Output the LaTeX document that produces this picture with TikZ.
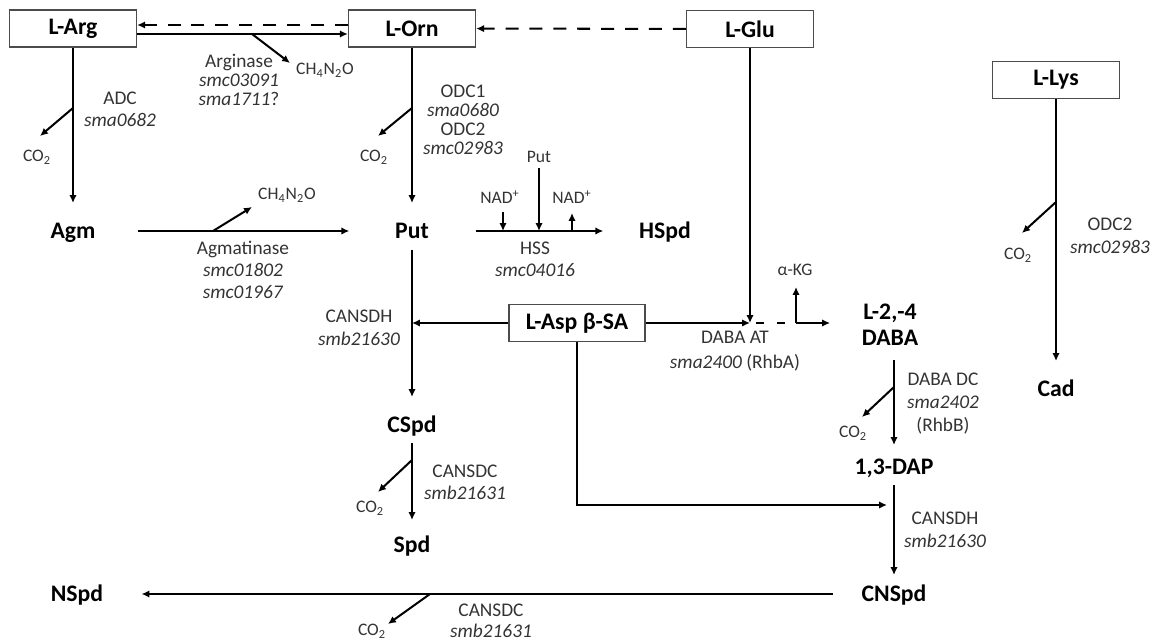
\documentclass[tikz,border=0pt]{standalone}
\usepackage{fontspec}
\setmainfont{Carlito}
\usetikzlibrary{arrows.meta,calc,positioning}

\newcommand\metfont{\fontsize{13.5}{16}\selectfont\bfseries}
\newcommand\chemfont{\fontsize{10}{12}\selectfont}

\begin{document}
\begin{tikzpicture}[x=0.02cm,y=-0.02cm,
  box/.style={draw=black!70,line width=0.8pt,minimum width=2.54cm,minimum height=0.74cm,
              inner sep=0pt,font=\metfont},
  met/.style={font=\metfont,inner sep=0pt,text height=8.7pt,text depth=0pt},
  lab/.style={font={\fontsize{11}{#1}\selectfont},align=center,text=black!80,inner sep=0pt},
  lab/.default=12.6pt,
  chem/.style={font=\chemfont,text=black!80,inner sep=0pt},
  arr/.style={line width=1.15pt,-{Latex[length=4.5pt,width=4.2pt]}},
  dasharr/.style={arr,dash pattern=on 7.4pt off 6.2pt}]
  \useasboundingbox (0,0) rectangle (1152,641);

  % boxed precursors
  \node[box] (arg) at (73,28.5) {L-Arg};
  \node[box] (orn) at (412,28.5) {L-Orn};
  \node[box] (glu) at (750,29) {L-Glu};
  \node[box] (lys) at (1056,80) {L-Lys};
  \node[box,minimum width=2.72cm] (asp) at (577,323) {L-Asp β-SA};

  % products
  \node[met] (agm) at (73,231) {Agm};
  \node[met] (put) at (412,231) {Put};
  \node[met] (hspd) at (665,231) {HSpd};
  \node[met] (cspd) at (412,425) {CSpd};
  \node[met] (spd) at (412,545) {Spd};
  \node[met] (nspd) at (77,594) {NSpd};
  \node[met] (cnspd) at (894,594) {CNSpd};
  \node[met] (dap) at (894,467) {1,3-DAP};
  \node[met] (cad) at (1056,389) {Cad};
  \node[font={\fontsize{13.5}{14.7}\selectfont\bfseries},align=center,inner sep=0pt]
    (daba) at (890,325) {L-2,-4\\DABA};

  % enzymes
  \node[lab=10.6pt] (argase) at (239,80) {Arginase\\\textit{smc03091}\\\textit{sma1711}?};
  \node[lab] (adc) at (120,109) {ADC\\\textit{sma0682}};
  \node[lab=10.8pt] (odc) at (463,120) {ODC1\\\textit{sma0680}\\ODC2\\\textit{smc02983}};
  \node[lab] (agmase) at (243,270) {Agmatinase\\\textit{smc01802}\\\textit{smc01967}};
  \node[lab] (hss) at (535,259) {HSS\\\textit{smc04016}};
  \node[lab=13pt] (cansdh1) at (359,328) {CANSDH\\\textit{smb21630}};
  \node[lab] (cansdc1) at (465,482) {CANSDC\\\textit{smb21631}};
  \node[lab=14.2pt] (dabaat) at (735,351) {DABA AT\\\textit{sma2400} (RhbA)};
  \node[lab=13.3pt] (dabadc) at (943,403.5) {DABA DC\\\textit{sma2402}\\(RhbB)};
  \node[lab=13pt] (cansdh2) at (945,530) {CANSDH\\\textit{smb21630}};
  \node[lab=12pt] (cansdc2) at (491,621) {CANSDC\\\textit{smb21631}};
  \node[lab=13pt] (odclys) at (1110,235.5) {ODC2\\\textit{smc02983}};

  % side products
  \node[chem] (urea1) at (325,70) {CH\textsubscript{4}N\textsubscript{2}O};
  \node[chem] (co2a) at (37,157) {CO\textsubscript{2}};
  \node[chem] (co2b) at (374,157) {CO\textsubscript{2}};
  \node[chem] (urea2) at (287,195) {CH\textsubscript{4}N\textsubscript{2}O};
  \node[chem] (nad1) at (500,197) {NAD\textsuperscript{+}};
  \node[chem] (putin) at (539,157) {Put};
  \node[chem] (nad2) at (572,197) {NAD\textsuperscript{+}};
  \node[chem] (akg) at (795,270) {α-KG};
  \node[chem] (co2c) at (1018,255) {CO\textsubscript{2}};
  \node[chem] (co2d) at (370,508) {CO\textsubscript{2}};
  \node[chem] (co2e) at (853,433) {CO\textsubscript{2}};
  \node[chem] (co2f) at (372,631) {CO\textsubscript{2}};

  % branch points
  \coordinate (argbr) at (252,34);   \coordinate (argur) at (290,63);
  \coordinate (adcbr) at (73,108);   \coordinate (adcco) at (40,136);
  \coordinate (odcbr) at (412,108);  \coordinate (odcco) at (378,136);
  \coordinate (agmbr) at (213,231);  \coordinate (agmur) at (252,207);
  \coordinate (nadin) at (503,212);  \coordinate (putsrc) at (539,168);
  \coordinate (nadout) at (572,213);
  \coordinate (atjoin) at (750,323); \coordinate (kgbr) at (796,323);
  \coordinate (kgout) at (796,287);
  \coordinate (cspdbr) at (412,460); \coordinate (cspdco) at (378,492);
  \coordinate (ddcbr) at (894,387);  \coordinate (ddcco) at (862,417);
  \coordinate (lysbr) at (1056,202); \coordinate (lysco) at (1022,233);
  \coordinate (dapjoin) at (887,505);
  \coordinate (nsbr) at (430,594);   \coordinate (nsco) at (388,624);

  % Arg / Orn / Glu
  \draw[dasharr] ([yshift=0.07cm]orn.west) -- ([yshift=0.07cm]arg.east);
  \draw[arr] ([yshift=-0.11cm]arg.east) -- ([yshift=-0.11cm]orn.west);
  \draw[arr] (argbr) -- (argur);
  \draw[dasharr] (glu) -- (orn);
  \draw[arr,shorten >=0.4cm] (arg) -- (agm);
  \draw[arr] (adcbr) -- (adcco);
  \draw[arr,shorten >=0.4cm] (orn) -- (put);
  \draw[arr] (odcbr) -- (odcco);
  \draw[arr,shorten <=0.84cm,shorten >=0.91cm] (agm) -- (put);
  \draw[arr] (agmbr) -- (agmur);

  % Put to HSpd
  \draw[arr,shorten <=0.93cm,shorten >=0.71cm] (put) -- (hspd);
  \draw[arr] (nadin) -- (nadin |- put);
  \draw[arr] (putsrc) -- (putsrc |- put);
  \draw[arr] (nadout |- put) -- (nadout);

  % carboxy route
  \draw[arr,shorten <=0.22cm,shorten >=0.4cm] (put) -- (cspd);
  \draw[arr] (asp) -- (asp -| put);
  \draw[arr,shorten <=0.2cm,shorten >=0.34cm] (cspd) -- (spd);
  \draw[arr] (cspdbr) -- (cspdco);

  % DABA route
  \draw[arr] (asp) -- (atjoin);
  \draw[arr] (glu) -- (glu |- atjoin);
  \draw[line width=1.15pt,dash pattern=on 4.5pt off 7.4pt,shorten <=0.12cm] (atjoin) -- (kgbr);
  \draw[arr] (kgbr) -- (kgout);
  \draw[arr,shorten >=0.63cm] (kgbr) -- (kgbr -| daba.west);
  \draw[arr,shorten <=0.28cm,shorten >=0.28cm] (daba.south -| dap.north) -- (dap.north);
  \draw[arr] (ddcbr) -- (ddcco);
  \draw[arr] (asp) |- (dapjoin);
  \draw[arr,shorten <=0.2cm,shorten >=0.22cm] (dap) -- (cnspd);
  \draw[arr,shorten <=0.57cm,shorten >=0.76cm] (cnspd) -- (nspd);
  \draw[arr] (nsbr) -- (nsco);

  % Lys
  \draw[arr,shorten >=0.4cm] (lys) -- (cad);
  \draw[arr] (lysbr) -- (lysco);
\end{tikzpicture}
\end{document}
